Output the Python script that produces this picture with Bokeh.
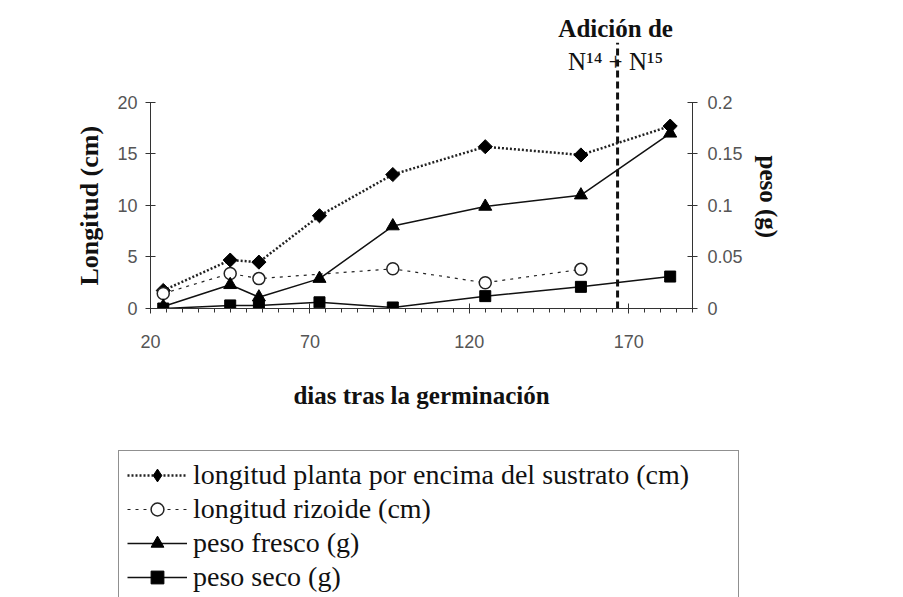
import math
from bokeh.plotting import figure
from bokeh.models import (Range1d, LinearAxis, FixedTicker, CustomJSTickFormatter,
                          Legend, LegendItem, Label, Title)
from bokeh.embed import file_html
from bokeh.resources import INLINE

# ---- data ----
days = [24, 45, 54, 73, 96, 125, 155, 183]
planta_cm = [1.75, 4.7, 4.5, 9.0, 13.0, 15.7, 14.9, 17.7]
rizoide_days = [24, 45, 54, 96, 125, 155]
rizoide_cm = [1.45, 3.4, 2.9, 3.85, 2.5, 3.8]
peso_fresco = [0.002, 0.023, 0.011, 0.029, 0.08, 0.099, 0.11, 0.17]
peso_seco = [0.0, 0.003, 0.003, 0.006, 0.001, 0.012, 0.021, 0.031]
x_ticks = [20, 70, 120, 170]
y_ticks = [0, 5, 10, 15, 20]
peso_ticks = [0, 0.05, 0.1, 0.15, 0.2]
dia_adicion = 166.5
labels = ["longitud planta por encima del sustrato (cm)",
          "longitud rizoide (cm)", "peso fresco (g)", "peso seco (g)"]

SERIF = "Liberation Serif"
SANS = "Liberation Sans"
INK = "#111111"

# y range extended above 20 so that the annotation lives inside the frame;
# axes are bounded to 0..20 / 0..0.2
p = figure(frame_width=542, frame_height=304, width=895, height=440,
           min_border_left=150, min_border_right=203,
           min_border_top=4, min_border_bottom=132,
           x_range=Range1d(20, 190), y_range=Range1d(0, 29.5),
           output_backend="svg", toolbar_location=None,
           background_fill_color="white", border_fill_color="white")
p.outline_line_color = None
p.grid.visible = False
p.extra_y_ranges = {"peso": Range1d(0, 0.295)}

def style_axis(ax):
    ax.axis_line_color = "#333333"
    ax.major_tick_line_color = "#333333"
    ax.minor_tick_line_color = "#333333"
    ax.major_label_text_font = SANS
    ax.major_label_text_font_size = "18px"
    ax.major_label_text_color = "#555555"
    ax.axis_label_text_font = SERIF
    ax.axis_label_text_font_style = "bold"
    ax.axis_label_text_font_size = "25px"
    ax.axis_label_text_color = INK
    ax.major_tick_in = 5
    ax.major_tick_out = 5

xa = p.xaxis[0]
style_axis(xa)
xa.ticker = FixedTicker(ticks=x_ticks, minor_ticks=list(range(20, 191, 5)))
xa.minor_tick_in = 0
xa.minor_tick_out = 4
xa.major_label_standoff = 21
xa.axis_label = "dias tras la germinación"
xa.axis_label_standoff = 31

ya = p.yaxis[0]
style_axis(ya)
ya.bounds = (0, 20)
ya.ticker = FixedTicker(ticks=y_ticks)
ya.minor_tick_line_color = None
ya.major_label_standoff = 8

ra = LinearAxis(y_range_name="peso", bounds=(0, 0.2))
style_axis(ra)
ra.ticker = FixedTicker(ticks=peso_ticks)
ra.minor_tick_line_color = None
ra.formatter = CustomJSTickFormatter(code="return String(+tick.toFixed(2));")
ra.major_label_standoff = 10
p.add_layout(ra, "right")

# axis titles as side titles (positioned along the bounded axes)
p.add_layout(Title(text="Longitud (cm)", align="left", offset=23, standoff=22,
                   text_font=SERIF, text_font_style="bold", text_font_size="26px",
                   text_color=INK), "left")
p.add_layout(Title(text="peso (g)", align="left", offset=151, standoff=18,
                   text_font=SERIF, text_font_style="bold", text_font_size="25px",
                   text_color=INK), "right")

# vertical dashed line for N addition (glyph, below the texts)
p.segment(x0=[dia_adicion], y0=[0], x1=[dia_adicion], y1=[25.8],
          line_color="#111111", line_width=3, line_dash="7 4")

# ---- series ----
ls = [dict(line_color="#222222", line_width=2.5, line_dash="2 2"),
      dict(line_color="#222222", line_width=1.2, line_dash="3 5"),
      dict(line_color="#111111", line_width=1.5),
      dict(line_color="#111111", line_width=1.5)]
mk = [dict(marker="diamond", size=17, fill_color="black", line_color="black"),
      dict(marker="circle", size=12, fill_color="white", line_color="#222222", line_width=1.5),
      dict(marker="triangle", size=13, fill_color="black", line_color="black"),
      dict(marker="square", size=11, fill_color="black", line_color="black")]
# in the chart the diamonds are drawn as squares on their corner
mk_chart = [dict(marker="square", angle=math.pi / 4, size=10, fill_color="black",
                 line_color="black")] + mk[1:]

p.line(days, planta_cm, **ls[0])
p.line(rizoide_days, rizoide_cm, **ls[1])
p.line(days, peso_fresco, y_range_name="peso", **ls[2])
p.line(days, peso_seco, y_range_name="peso", **ls[3])
p.scatter(days, planta_cm, **mk_chart[0])
p.scatter(rizoide_days, rizoide_cm, **mk_chart[1])
p.scatter(days, peso_fresco, y_range_name="peso", **mk_chart[2])
p.scatter(days, peso_seco, y_range_name="peso", **mk_chart[3])

p.add_layout(Label(x=165.9, y=27.2, text="Adición de", text_align="center",
                   text_baseline="middle", text_font=SERIF, text_font_style="bold",
                   text_font_size="25px", text_color=INK))
p.add_layout(Label(x=165.9, y=24.0, text="N¹⁴ + N¹⁵", text_align="center",
                   text_baseline="middle", text_font=SERIF,
                   text_font_size="25px", text_color=INK))

# ---- legend (own root below the chart; its glyph samples use the same data,
# which lies outside this small figure's view) ----
q = figure(width=895, height=157, min_border=0, x_range=Range1d(-2, -1), y_range=Range1d(-2, -1),
           output_backend="svg", toolbar_location=None,
           background_fill_color="white", border_fill_color="white")
q.outline_line_color = None
q.grid.visible = False
q.axis.visible = False
series = [(days, planta_cm), (rizoide_days, rizoide_cm), (days, peso_fresco), (days, peso_seco)]
items = []
for i, lab in enumerate(labels):
    xs, ys = series[i]
    lr = q.line(xs, ys, **ls[i])
    mr = q.scatter(xs, ys, **mk[i])
    items.append(LegendItem(label=lab, renderers=[lr, mr]))
legend = Legend(items=items, location=(118, -5), orientation="vertical",
                glyph_width=60, glyph_height=32, label_height=32, label_width=537,
                label_standoff=6, spacing=2, padding=8, margin=0,
                label_text_font=SERIF, label_text_font_size="28px", label_text_color=INK,
                label_text_baseline="middle",
                border_line_color="#222222", border_line_width=1,
                background_fill_color="white", background_fill_alpha=1)
q.add_layout(legend, "center")

open("out.html", "w").write(file_html([p, q], INLINE))
